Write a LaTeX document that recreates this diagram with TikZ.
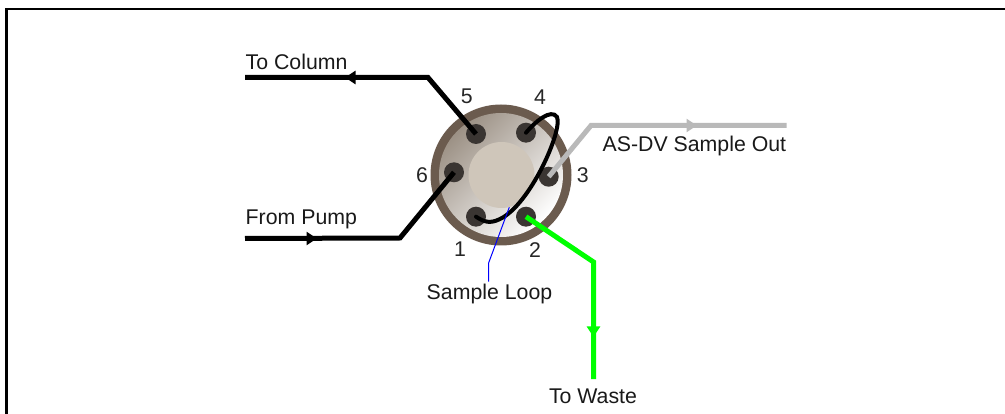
\documentclass[tikz,border=0pt]{standalone}
\usepackage{fontspec}
\setmainfont{Liberation Sans}
\usetikzlibrary{arrows.meta}
\definecolor{vlRing}{HTML}{6B5B4E}
\definecolor{vlFaceA}{HTML}{9C9185}
\definecolor{vlFaceB}{HTML}{FFFFFF}
\definecolor{vlHub}{HTML}{CFC6BA}
\definecolor{vlPort}{HTML}{3A3532}
\definecolor{vlGrey}{HTML}{B9B9B9}
\definecolor{vlGreen}{HTML}{00FF00}
\tikzset{
  vlport/.style={
    circle, fill=vlPort, minimum size=20pt, inner sep=0pt,
  },
  vltube/.style={
    draw=#1, line width=5pt, line join=miter,
  },
  vlflow/.style={
    vltube=#1, -{Triangle[length=10.5pt, width=13pt]},
  },
  vllabel/.style={
    font=\fontsize{21.3}{24}\selectfont, text=black!90, inner sep=0pt, anchor=base west,
  },
  vlnum/.style={
    font=\fontsize{21.3}{24}\selectfont, text=black!85, inner sep=0pt,
  },
}

\begin{document}
\begin{tikzpicture}[x=1pt, y=-1pt]
\useasboundingbox (0,0) rectangle (1005,414);

% Frame -------------------------------------------------------------------
\draw[line width=2.6pt] (6.3,414) -- (6.3,9) -- (1005,9);

% Valve body --------------------------------------------------------------
\node[circle, fill=vlRing, minimum size=141pt, inner sep=0pt] (ring) at (501,175) {};
\shade[shading=axis, top color=vlFaceA, bottom color=vlFaceB, shading angle=45]
  (ring.center) circle[radius=62];
\node[circle, fill=vlHub, minimum size=66pt, inner sep=0pt] (hub) at (501.5,175) {};

\node[vlport] (p1) at (476,216.7) {};
\node[vlport] (p2) at (526,216.7) {};
\node[vlport] (p3) at (548.7,176.7) {};
\node[vlport] (p4) at (526,132.7) {};
\node[vlport] (p5) at (476,134) {};
\node[vlport] (p6) at (454,172.3) {};

\node[vlnum] (n1) at (460,249) {1};
\node[vlnum] (n2) at (535,250) {2};
\node[vlnum] (n3) at (582.7,175) {3};
\node[vlnum] (n4) at (540,96.7) {4};
\node[vlnum] (n5) at (466.7,96) {5};
\node[vlnum] (n6) at (422,175) {6};

% Labels ------------------------------------------------------------------
\node[vllabel] (column) at (245.5,70) {To Column};
\node[vllabel] (pump) at (245.5,225) {From Pump};
\node[vllabel] (out) at (602.5,151.7) {AS-DV Sample Out};
\node[vllabel, anchor=base] (loop) at (489.5,300) {Sample Loop};
\node[vllabel, anchor=base] (waste) at (593,403) {To Waste};

% Tube points -------------------------------------------------------------
\coordinate (c0) at (245,77.5);
\coordinate (c1) at (345,77.5);
\coordinate (c2) at (428,77.5);
\coordinate (f0) at (245,238.5);
\coordinate (f1) at (317,238.5);
\coordinate (f2) at (400,238);
\coordinate (g1) at (591,125.5);
\coordinate (g2) at (697,125.5);
\coordinate (g3) at (786.5,125.5);
\coordinate (w1) at (593.5,262);
\coordinate (w2) at (593.5,337);
\coordinate (w3) at (593.5,379);
\coordinate (b1) at (509.3,207.3);
\coordinate (b2) at (488.6,263);
\coordinate (b3) at (488.6,281.7);

% Flow --------------------------------------------------------------------
\draw[vltube=black] (p5.center) -- (c2) -- (c0);
\draw[vlflow=black] (c2) -- (c1);

\draw[vltube=black] (f0) -- (f2) -- (p6.center);
\draw[vlflow=black] (f0) -- (f1);

\draw[vltube=vlGrey] (p3.center) -- (g1) -- (g3);
\draw[vlflow=vlGrey] (g1) -- (g2);

\draw[vltube=vlGreen] (p2.center) -- (w1) -- (w3);
\draw[vlflow=vlGreen] (w1) -- (w2);

% Sample loop -------------------------------------------------------------
\draw[draw=black, line width=4pt, line cap=round]
  (p4.center) .. controls (535,122) and (551,108) .. (557,117)
  .. controls (563,130) and (530,205) .. (500,219)
  .. controls (490,224) and (484,222) .. (p1.center);
\draw[blue, line width=1pt] (b1) -- (b2) -- (b3);

\end{tikzpicture}
\end{document}
